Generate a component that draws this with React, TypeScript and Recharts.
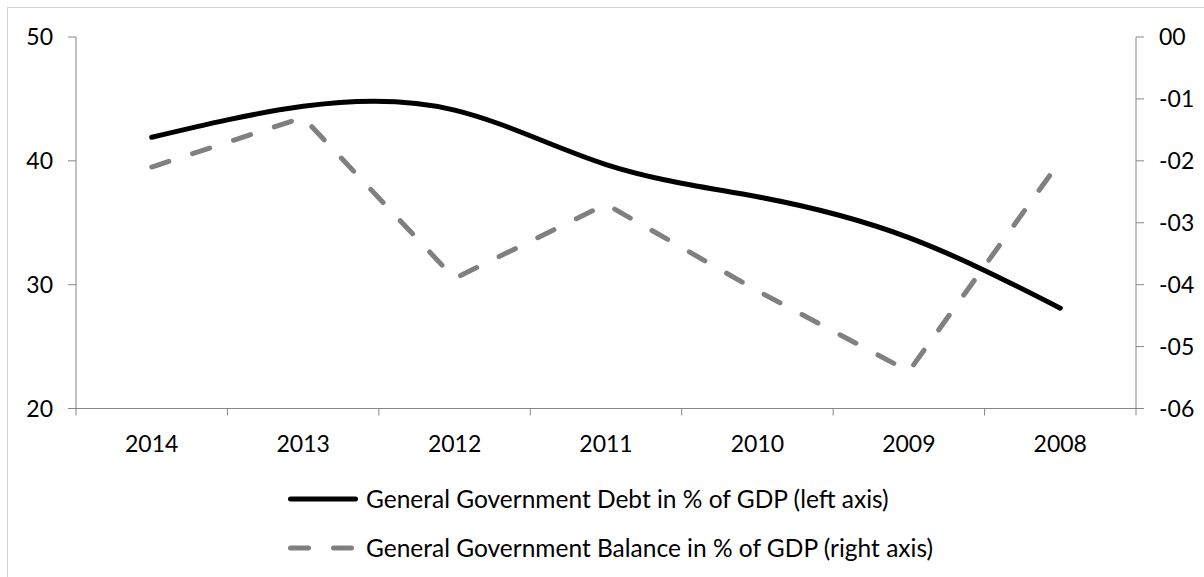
import { LineChart, Line, XAxis, YAxis, Legend } from 'recharts';

const years = ['2014', '2013', '2012', '2011', '2010', '2009', '2008'];
const debt = [41.9, 44.4, 44.1, 39.7, 37.1, 33.8, 28.1]; // % of GDP, left axis
const balance = [-2.1, -1.3, -3.9, -2.7, -4.1, -5.4, -2.0]; // % of GDP, right axis
const leftTicks = [20, 30, 40, 50];
const rightTicks = [-6, -5, -4, -3, -2, -1, 0];

const DEBT_NAME = 'General Government Debt in % of GDP (left axis)';
const BALANCE_NAME = 'General Government Balance in % of GDP (right axis)';
const seriesOrder = ['debt', 'balance'];

const FONT = 'Lato, "Open Sans", sans-serif';
const AXIS = '#868686';
const W = 1204;
const H = 577;

const data = years.map((year, i) => ({ year, debt: debt[i], balance: balance[i] }));

// Excel style: tick marks sit between categories, labels in the middle
function YearTick(props: any) {
  const { x, y, payload, index } = props;
  const half = payload?.offset || (W - 76 - 68) / years.length / 2;
  return (
    <g>
      <line x1={x - half} x2={x - half} y1={y - 7} y2={y} stroke={AXIS} />
      {index === years.length - 1 && (
        <line x1={x + half} x2={x + half} y1={y - 7} y2={y} stroke={AXIS} />
      )}
      <text x={x} y={y + 27} textAnchor="middle" dominantBaseline="central" fill="#000" fontSize={23} fontFamily={FONT}>
        {payload.value}
      </text>
    </g>
  );
}

const pad2 = (v: number) => (v < 0 ? '-' : '') + String(Math.abs(v)).padStart(2, '0');

function LegendRows({ payload }: any) {
  const items = [...(payload || [])].sort(
    (a: any, b: any) => seriesOrder.indexOf(a.dataKey) - seriesOrder.indexOf(b.dataKey)
  );
  return (
    <div style={{ height: 113.5, paddingTop: 15.5, boxSizing: 'border-box', display: 'flex', justifyContent: 'center' }}>
      <div style={{ paddingLeft: 17 }}>
        {items.map((entry: any) => (
          <div key={entry.value} style={{ height: 49, display: 'flex', alignItems: 'center' }}>
            <svg width={70} height={10} style={{ marginRight: 8 }}>
              <line
                x1={2.5}
                x2={67.5}
                y1={5}
                y2={5}
                stroke={entry.color}
                strokeWidth={5}
                strokeLinecap="round"
                strokeDasharray={entry.payload?.strokeDasharray}
              />
            </svg>
            <span style={{ fontFamily: FONT, fontSize: 24.5, color: '#000', whiteSpace: 'nowrap' }}>{entry.value}</span>
          </div>
        ))}
      </div>
    </div>
  );
}

export default function App() {
  return (
    <div style={{ position: 'absolute', left: 0, top: 0, width: W, height: H, overflow: 'hidden', background: '#fff' }}>
      <div style={{ position: 'absolute', left: 7, top: 7, width: 1400, height: 800, border: '1px solid #d0d0d0' }} />
      <LineChart width={W} height={H} data={data} margin={{ top: 37, right: 0, left: 0, bottom: 5 }}>
        <XAxis
          dataKey="year"
          scale="band"
          height={50}
          stroke={AXIS}
          tickLine={false}
          tickSize={7}
          tickMargin={0}
          tick={<YearTick />}
          interval={0}
        />
        <YAxis
          yAxisId="left"
          domain={[20, 50]}
          ticks={leftTicks}
          width={76}
          stroke={AXIS}
          tickSize={8}
          tickMargin={15}
          tick={{ fill: '#000', fontSize: 23, fontFamily: FONT }}
        />
        <YAxis
          yAxisId="right"
          orientation="right"
          domain={[-6, 0]}
          ticks={rightTicks}
          width={68}
          stroke={AXIS}
          tickSize={8}
          tickMargin={15}
          tickFormatter={pad2}
          tick={{ fill: '#000', fontSize: 23, fontFamily: FONT }}
        />
        <Legend verticalAlign="bottom" align="center" content={<LegendRows />} />
        <Line
          yAxisId="left"
          dataKey="debt"
          name={DEBT_NAME}
          type="natural"
          stroke="#000"
          strokeWidth={5}
          strokeLinecap="round"
          dot={false}
          activeDot={false}
          isAnimationActive={false}
        />
        <Line
          yAxisId="right"
          dataKey="balance"
          name={BALANCE_NAME}
          type="linear"
          stroke="#808080"
          strokeWidth={5}
          strokeLinecap="round"
          strokeDasharray="18 25"
          dot={false}
          activeDot={false}
          isAnimationActive={false}
        />
      </LineChart>
    </div>
  );
}
